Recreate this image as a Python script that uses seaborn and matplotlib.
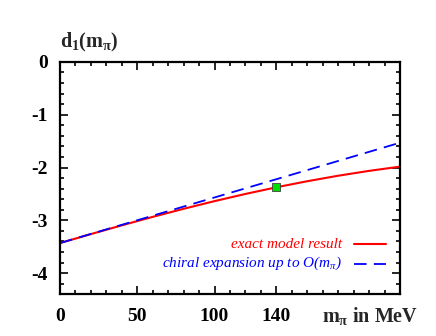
import numpy as np
import pandas as pd
import matplotlib
matplotlib.use("Agg")
import matplotlib.pyplot as plt
from matplotlib.ticker import MultipleLocator, FixedLocator
import seaborn as sns

# ------------------------------------------------------------------
# DATA
# ------------------------------------------------------------------
m_pi      = [0, 20, 40, 60, 80, 100, 120, 140, 160, 180, 200, 220]
d1_exact  = [-3.43, -3.26, -3.094, -2.934, -2.781, -2.636, -2.50, -2.374,
             -2.259, -2.155, -2.063, -1.983]
m_chiral  = [0, 220]
d1_chiral = [-3.43, -1.53]
phys_m    = [140]
phys_d1   = [-2.37]

x_ticks  = [0, 50, 100, 140]
y_ticks  = [0, -1, -2, -3, -4]

exact_df  = pd.DataFrame({"m": m_pi, "d1": d1_exact})
chiral_df = pd.DataFrame({"m": m_chiral, "d1": d1_chiral})
phys_df   = pd.DataFrame({"m": phys_m, "d1": phys_d1})

# ------------------------------------------------------------------
# STYLE
# ------------------------------------------------------------------
sns.set_theme(style="ticks")
plt.rcParams["font.family"] = ["Liberation Serif", "DejaVu Serif"]
plt.rcParams["mathtext.fontset"] = "custom"
plt.rcParams["mathtext.rm"] = "Liberation Serif"
plt.rcParams["mathtext.it"] = "Liberation Serif:italic"
plt.rcParams["mathtext.bf"] = "Liberation Serif:bold"
plt.rcParams["axes.unicode_minus"] = False

fig = plt.figure(figsize=(4.36, 3.36), dpi=100)
ax = fig.add_axes([60 / 436, 1 - 294.3 / 336, 340 / 436, 232.4 / 336])

sns.lineplot(data=exact_df, x="m", y="d1", ax=ax, color="red", lw=1.5)
sns.lineplot(data=chiral_df, x="m", y="d1", ax=ax, color="blue", lw=1.3,
             dashes=False, linestyle=(0, (7, 4)))
sns.scatterplot(data=phys_df, x="m", y="d1", ax=ax, marker="s", s=28,
                color="#00dd00", edgecolor="#404040", linewidth=0.6, zorder=5)

ax.set_xlim(0, 220)
ax.set_ylim(-4.4, 0)
ax.xaxis.set_major_locator(FixedLocator(x_ticks))
ax.xaxis.set_minor_locator(MultipleLocator(10))
ax.yaxis.set_major_locator(FixedLocator(y_ticks))
ax.yaxis.set_minor_locator(MultipleLocator(0.2))
ax.set_xticklabels([str(t) for t in x_ticks], fontweight="bold", fontsize=14)
ax.set_yticklabels([str(t) for t in y_ticks], fontweight="bold", fontsize=14)
ax.tick_params(which="both", direction="in", top=True, right=True,
               width=1.2, colors="black")
ax.tick_params(axis="y", pad=9)
ax.tick_params(axis="x", pad=10)
ax.tick_params(which="major", length=6)
ax.tick_params(which="minor", length=3)
for s in ax.spines.values():
    s.set_linewidth(1.6)
    s.set_color("black")
ax.set_xlabel("")
ax.set_ylabel("")

# axis titles placed like the original
fig.text(60 / 436, 1 - 42 / 336, r"$\mathbf{d_1(m_\pi)}$", fontsize=14.5,
         ha="left", va="center")
fig.text(418 / 436, 1 - 316 / 336, r"$\mathbf{m_\pi}$ in MeV", fontsize=14.5,
         fontweight="bold", ha="right", va="center")

# legend drawn by hand to keep the text right-aligned before the line sample
fig.text(342 / 436, 1 - 244 / 336, "exact model result", color="red",
         style="italic", fontsize=11, ha="right", va="center")
fig.text(342 / 436, 1 - 263.5 / 336, r"chiral expansion up to O($m_\pi$)",
         color="blue", style="italic", fontsize=11, ha="right", va="center")
fig.add_artist(plt.Line2D([354 / 436, 386 / 436], [1 - 244 / 336] * 2,
                          color="red", lw=1.5, transform=fig.transFigure))
fig.add_artist(plt.Line2D([354 / 436, 386 / 436], [1 - 263.5 / 336] * 2,
                          color="blue", lw=1.3, linestyle=(0, (7, 4)),
                          transform=fig.transFigure))

fig.savefig("out.png", dpi=100)
